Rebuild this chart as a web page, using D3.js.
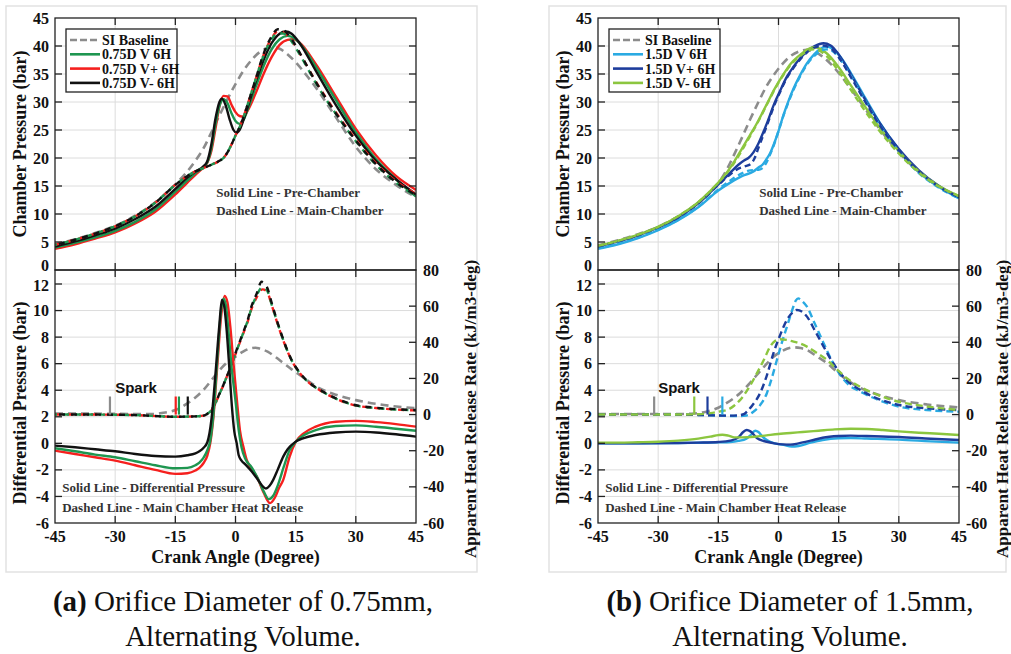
<!DOCTYPE html>
<html>
<head>
<meta charset="utf-8">
<script src="https://cdn.jsdelivr.net/npm/d3@7"></script>
<style>
  body { margin: 0; background: #fff; }
  svg { display: block; }
</style>
</head>
<body>
<script>
// Axis ticks
var degTicks = [-45, -30, -15, 0, 15, 30, 45];
var presTicks = [0, 5, 10, 15, 20, 25, 30, 35, 40, 45];
var dpTicks = [-6, -4, -2, 0, 2, 4, 6, 8, 10, 12];
var hrrTicks = [-60, -40, -20, 0, 20, 40, 60, 80];

// ---------- (a) 0.75mm orifice ----------
var legendA = ["SI Baseline", "0.75D V 6H", "0.75D V+ 6H", "0.75D V- 6H"];

// chamber pressure (bar)
var siPresA = [[-45,4.6],[-40,5.5],[-35,6.6],[-30,7.9],[-25,9.7],[-20,12.1],[-15,15.3],[-12,17.6],[-10,19.5],[-8,21.7],[-6,24.6],[-4,27.6],[-2,30.5],[0,33.2],[2,35.6],[4,37.5],[6,38.9],[8,39.6],[9.5,39.8],[11,39.5],[13,38.5],[15,37.1],[18,34.5],[21,31.6],[25,27.3],[30,22],[35,18],[40,15.2],[45,13]];
var preV_A = [[-45,4.0],[-40,4.85],[-35,5.85],[-30,7.0],[-25,8.6],[-20,10.8],[-15,14.0],[-12,16.0],[-10,17.3],[-8,18.4],[-7,19.3],[-6,21.8],[-5,26],[-4,29.3],[-3,30.5],[-2,29.8],[-1,28],[0,26.6],[1,26.1],[2,26.8],[3,28.6],[5,32.6],[7,36.4],[9,39.4],[11,41.2],[13,41.8],[15,41.2],[17,39.6],[20,36.3],[25,30.4],[30,24.6],[35,19.8],[40,16.2],[45,13.1]];
var preVp_A = [[-45,3.8],[-40,4.6],[-35,5.6],[-30,6.7],[-25,8.3],[-20,10.4],[-15,13.5],[-12,15.6],[-10,17.0],[-8,18.3],[-7,19.2],[-6,21.3],[-5,25.2],[-4,29.2],[-3,31.1],[-2,31],[-1,29.5],[0,28.2],[1,27.5],[2,27.4],[3,28.4],[5,31.5],[7,35],[9,38],[11,40.2],[13,41.1],[14.5,41.2],[16,40.6],[20,36.8],[25,31],[30,25.2],[35,20.5],[40,16.8],[45,14.3]];
var preVm_A = [[-45,4.2],[-40,5.1],[-35,6.2],[-30,7.4],[-25,9.1],[-20,11.3],[-15,14.5],[-12,16.5],[-10,17.6],[-8,18.5],[-7,19.5],[-6,22.5],[-5,27],[-4,30],[-3.4,30.6],[-2.5,29.5],[-1.5,27],[-0.5,25],[0.3,24.5],[1,25],[2,26.8],[3,29],[5,33.5],[7,37.5],[9,40.5],[11,42.2],[12.5,42.6],[14,42.2],[16,40.5],[20,35.6],[25,29.5],[30,24],[35,19.5],[40,16.2],[45,13.5]];
var mainV_A = [[-45,4.5],[-40,5.4],[-35,6.5],[-30,7.8],[-25,9.6],[-20,12.0],[-15,15.2],[-12,16.8],[-10,17.6],[-8,18.2],[-6,18.8],[-4,19.5],[-3,20.0],[-2,21.0],[-1,22.4],[0,24.0],[1,25.5],[2,27.3],[3,29.5],[5,34],[7,38.3],[9,41.2],[10.5,42.3],[12,42.2],[14,40.8],[16,38.5],[20,33.4],[25,27.9],[30,23],[35,18.8],[40,15.6],[45,13.2]];
var mainVp_A = [[-45,4.5],[-40,5.4],[-35,6.5],[-30,7.8],[-25,9.6],[-20,12.0],[-15,15.2],[-12,16.8],[-10,17.6],[-8,18.2],[-6,18.8],[-4,19.5],[-3,20.0],[-2,21.0],[-1,22.4],[0,24.0],[1,25.5],[2,27.3],[3,29.5],[5,34],[7,38.4],[9,41.4],[10.5,42.6],[12,42.4],[14,41],[16,38.7],[20,33.7],[25,28.2],[30,23.3],[35,19.1],[40,15.9],[45,13.6]];
var mainVm_A = [[-45,4.5],[-40,5.4],[-35,6.5],[-30,7.8],[-25,9.6],[-20,12.0],[-15,15.2],[-12,16.8],[-10,17.6],[-8,18.2],[-6,18.8],[-4,19.5],[-3,20.0],[-2,21.0],[-1,22.4],[0,24.0],[1,25.5],[2,27.3],[3,29.5],[5,34],[7,38.6],[9,41.7],[10.5,43.0],[12,42.8],[14,41.2],[16,38.8],[20,33.6],[25,28],[30,23.1],[35,18.9],[40,15.7],[45,13.4]];

// differential pressure (bar)
var dpV_A = [[-45,-0.37],[-40,-0.6],[-35,-0.85],[-30,-1.05],[-25,-1.35],[-20,-1.65],[-15,-1.88],[-12,-1.85],[-10,-1.65],[-9,-1.45],[-8,-1.1],[-7,-0.5],[-6.3,0.2],[-5.5,2.2],[-4.5,6.5],[-3.6,10.0],[-3,10.9],[-2.4,10.4],[-1.8,8.6],[-1,5.8],[0,3.2],[0.8,1.0],[1.5,-0.3],[2.5,-1.2],[4,-1.8],[5.5,-2.6],[7,-3.6],[8.3,-4.2],[9.5,-3.9],[10.5,-3.2],[12,-1.8],[13.5,-0.5],[15,0.1],[17,0.6],[20,1.0],[25,1.3],[30,1.35],[35,1.25],[40,1.1],[45,0.95]];
var dpVp_A = [[-45,-0.55],[-40,-0.8],[-35,-1.05],[-30,-1.3],[-25,-1.65],[-20,-2.0],[-15,-2.3],[-12,-2.25],[-10,-2.05],[-9,-1.85],[-8,-1.5],[-7,-0.9],[-6.3,0.0],[-5.5,2.0],[-4.5,6.0],[-3.5,9.8],[-2.7,11.1],[-2,10.6],[-1.3,8.8],[-0.5,6.0],[0.3,3.4],[1.1,1.0],[2,-0.3],[2.8,-1.25],[4,-1.9],[5.3,-2.5],[7,-3.7],[8.6,-4.5],[9.8,-4.1],[10.8,-3.4],[11.9,-2.75],[13.5,-1.0],[15,0.1],[17,0.75],[20,1.26],[25,1.63],[30,1.69],[35,1.6],[40,1.45],[45,1.26]];
var dpVm_A = [[-45,-0.17],[-40,-0.3],[-35,-0.45],[-30,-0.6],[-25,-0.8],[-20,-0.95],[-15,-1.0],[-12,-0.9],[-10,-0.75],[-9,-0.6],[-8,-0.35],[-7,0.1],[-6,1.8],[-5,5.2],[-4,9.0],[-3.4,10.8],[-2.8,10.3],[-2.2,8.5],[-1.5,5.5],[-0.9,2.8],[-0.3,0.9],[0.3,0],[0.8,-0.9],[1.5,-1.3],[2.5,-1.6],[4,-2.1],[5.5,-2.7],[7,-3.3],[7.6,-3.4],[8.5,-3.2],[9.4,-2.75],[10.5,-2],[11.9,-1.0],[13,-0.45],[15,0.13],[17,0.4],[20,0.63],[25,0.82],[30,0.88],[35,0.82],[40,0.68],[45,0.5]];

// apparent heat release rate (kJ/m3-deg)
var siHrrA = [[-45,0.5],[-35,0.5],[-25,0.3],[-20.5,0.3],[-18,1.0],[-15,2.5],[-12,6.2],[-10,9.5],[-8,13.6],[-6,19],[-4,24.5],[-2,29],[0,32],[2,35],[4,36.8],[5,37],[6,36.5],[8,34.8],[10,31.8],[12,28.4],[14,25],[16,22],[18.5,18],[21,14.5],[25,11],[30,8],[37,5.3],[45,3.5]];
var hrrV_A = [[-45,0],[-35,0],[-25,-0.3],[-15,-1.2],[-10,-1.0],[-8,-0.6],[-7,0.4],[-6,2.4],[-5,6.4],[-4,11.4],[-3,16.4],[-2.2,20.9],[-1,27.4],[0,33.7],[1,39.6],[2,45.6],[3,51.6],[4,59],[5.3,66],[6.7,70.5],[7.8,69],[9,61],[10.3,51.8],[12,40.7],[13.6,31.8],[16.1,22.7],[18.5,17.3],[21.1,13.4],[25,8.8],[29.8,5.1],[35,3.6],[40,2.8],[45,2.3]];
var hrrVp_A = [[-45,0],[-35,0],[-25,-0.3],[-15,-1.2],[-10,-1.0],[-8,-0.6],[-7,0.4],[-6,2.3],[-5,6.3],[-4,11.3],[-3,16.3],[-2.2,20.8],[-1,27.3],[0,33.5],[1,39.4],[2,45.3],[3,51.2],[4,58.5],[5.3,65],[6.7,69.3],[7.8,68.2],[9,60.8],[10.3,51.5],[12,40.5],[13.6,31.8],[16.1,22.7],[18.5,17.3],[21.1,13.4],[25,8.8],[29.8,5.1],[35,3.6],[40,2.8],[45,2.3]];
var hrrVm_A = [[-45,0],[-35,0],[-25,-0.3],[-15,-1.2],[-10,-1.0],[-8,-0.6],[-7,0.5],[-6,2.5],[-5,6.5],[-4,11.5],[-3,16.5],[-2.2,21],[-1,27.5],[0,34],[1,40],[2,46],[3,52],[4,60],[5.3,67],[6.5,73.5],[7.8,70.8],[9,62],[10.3,52.3],[12,41],[13.6,32],[16.1,22.9],[18.5,17.5],[21.1,13.6],[25,9],[29.8,5.3],[35,3.8],[40,3],[45,2.5]];

// spark timing (deg)
var sparkA = [-31.3, -14.1, -14.9, -11.9];

// ---------- (b) 1.5mm orifice ----------
var legendB = ["SI Baseline", "1.5D V 6H", "1.5D V+ 6H", "1.5D V- 6H"];

var siPresB = [[-45,4.4],[-40,5.3],[-35,6.4],[-30,7.7],[-25,9.6],[-20,12],[-15,15.5],[-13,17.8],[-11,20.7],[-9,23.8],[-7,27],[-5,30],[-3,32.8],[-1,35],[1,36.8],[3,38.2],[5,39],[7,39.3],[9,39],[11,38.1],[13,36.8],[15,35.2],[18,32.4],[21,29.4],[25,25.4],[30,21],[35,17.5],[40,15],[45,13]];
var preV_B = [[-45,3.8],[-40,4.6],[-35,5.7],[-30,7.1],[-25,8.9],[-20,11.2],[-15,14.2],[-12,15.6],[-9,16.8],[-6.25,17.6],[-5,18.3],[-4,18.8],[-3,19.8],[-2,21],[-1.25,22.3],[0,24.8],[1.25,27.7],[2.5,30.2],[3.75,32.4],[5.4,34.8],[7,36.8],[9,38.6],[10.5,39.5],[12.1,39.9],[14,39.2],[16,37.5],[18,35.2],[21,31.5],[25,26.6],[30,21.5],[35,17.5],[40,14.8],[45,12.8]];
var preVp_B = [[-45,4.2],[-40,5.1],[-35,6.2],[-30,7.6],[-25,9.4],[-20,11.9],[-15,15.3],[-12,17.4],[-10,18.8],[-8.5,19.6],[-7.5,20],[-6.25,21],[-5,22.6],[-3,26],[-1,29.8],[0.4,32],[2,34.4],[3.75,36.3],[5.4,37.8],[7,39],[9,40],[11.2,40.5],[13,40.1],[15,38.5],[18,35],[21,31.2],[25,26.5],[30,21.6],[35,17.8],[40,15],[45,13]];
var preVm_B = [[-45,4.3],[-40,5.2],[-35,6.3],[-30,7.7],[-25,9.6],[-20,12.1],[-15,15.6],[-13,17.3],[-11,19.4],[-9,21.8],[-7,24.2],[-5,26.7],[-3,29.5],[-1,32.3],[1,34.7],[3,36.8],[5,38.2],[7,39.3],[8.75,39.8],[10,39.6],[12,38.7],[15,36.2],[18,33],[21,29.8],[25,25.6],[30,21.2],[35,17.6],[40,15],[45,13.2]];
var mainV_B = [[-45,3.9],[-40,4.7],[-35,5.8],[-30,7.2],[-25,9.0],[-20,11.3],[-15,14.4],[-12,16],[-9,17.3],[-7,17.8],[-5,17.9],[-4,18.2],[-3,19.2],[-2,20.8],[-1,22.6],[0,24.8],[1.25,27.6],[2.5,30],[3.75,32.2],[5.4,34.6],[7,36.6],[9,38.3],[10.5,39.1],[12,39.4],[14,38.8],[16,37],[18,34.7],[21,31],[25,26.2],[30,21.2],[35,17.3],[40,14.7],[45,12.8]];
var mainVp_B = [[-45,4.2],[-40,5.1],[-35,6.2],[-30,7.6],[-25,9.4],[-20,11.9],[-15,15.2],[-12,17.1],[-10,18.1],[-8.5,18.5],[-7,18.9],[-6,19.9],[-5,21.8],[-3,25.6],[-1,29.5],[0.4,31.8],[2,34.2],[3.75,36.1],[5.4,37.6],[7,38.8],[9,39.7],[11,40.1],[13,39.6],[15,38],[18,34.5],[21,30.8],[25,26.1],[30,21.3],[35,17.6],[40,14.9],[45,13]];
var mainVm_B = [[-45,4.3],[-40,5.2],[-35,6.3],[-30,7.7],[-25,9.6],[-20,12.1],[-15,15.6],[-13,17.2],[-11,19.2],[-9,21.5],[-7,24],[-5,26.6],[-3,29.4],[-1,32.2],[1,34.6],[3,36.6],[5,38],[7,39],[8.75,39.4],[10,39.2],[12,38.2],[15,35.5],[18,32.2],[21,29],[25,25],[30,20.8],[35,17.4],[40,14.9],[45,13.2]];

var dpV_B = [[-45,0],[-35,0],[-25,0.02],[-20,0.04],[-15,0.07],[-12,0.1],[-10,0.18],[-8,0.35],[-7,0.6],[-5.8,0.95],[-5,0.85],[-4,0.5],[-2.9,0.25],[-1,0],[1.25,-0.12],[3.3,-0.25],[5,-0.2],[8,0.05],[11,0.25],[15,0.38],[18,0.4],[22,0.36],[30,0.28],[38,0.15],[45,0.05]];
var dpVp_B = [[-45,0],[-35,0],[-25,0.02],[-20,0.05],[-15,0.1],[-12,0.2],[-10,0.45],[-8.8,0.85],[-7.9,1.0],[-7,0.9],[-5.4,0.4],[-4,0.2],[-2.9,0.12],[-1,0],[1,-0.08],[3,-0.1],[5,0.0],[8,0.2],[11,0.42],[15,0.55],[18,0.58],[22,0.55],[30,0.48],[38,0.35],[45,0.25]];
var dpVm_B = [[-45,0.05],[-40,0.05],[-35,0.08],[-30,0.12],[-25,0.2],[-20,0.35],[-17,0.5],[-15,0.62],[-14,0.65],[-12.5,0.58],[-11,0.45],[-9,0.45],[-6,0.5],[-3,0.6],[0,0.7],[3,0.78],[6,0.85],[10,0.95],[14,1.05],[18,1.1],[22,1.08],[26,1.0],[30,0.9],[35,0.8],[40,0.72],[45,0.63]];

var siHrrB = [[-45,0.3],[-35,0.3],[-25,0.3],[-21,0.6],[-18,1.6],[-15,3.8],[-13.75,5.3],[-11.5,8.5],[-9.6,11.8],[-7.5,16.5],[-5.4,21.9],[-3.3,27.2],[-1.25,32],[1,35.3],[3.75,37.2],[5.5,36.8],[7.1,35.7],[9.5,32.3],[12.1,28.4],[14.5,23.8],[17.1,19.1],[20,15.2],[23.75,11.8],[30,8],[37,5.6],[45,4]];
var hrrV_B = [[-45,0],[-30,0],[-20,-0.2],[-15,-0.6],[-10,-0.8],[-8,-0.5],[-7,0.3],[-6.25,1.6],[-4.5,5.5],[-2.9,11.8],[-1.7,20],[-0.4,30.2],[0.8,39.5],[2.1,48.6],[3.3,57],[4.3,63],[4.9,64.3],[5.8,63],[7.1,59.7],[9,50.5],[11.25,39.5],[13.3,29.8],[15.4,21.9],[17.5,16.5],[20.4,12.7],[25,8],[30,4.4],[37,2.5],[45,1.6]];
var hrrVp_B = [[-45,0],[-30,0],[-20,-0.2],[-15,-0.5],[-12,-0.6],[-10,-0.4],[-8.5,0.4],[-7.9,1.6],[-6.5,5.2],[-4.6,11.8],[-3,21],[-1.25,34],[0.5,44.5],[2.1,52.4],[3.5,56.5],[4.6,57.9],[5.8,57],[7.1,54.2],[9,46.8],[11.25,37.6],[13.3,29.6],[15.4,22.9],[17.5,18],[20.4,13.6],[25,8.6],[30,5.3],[37,3.5],[45,2.5]];
var hrrVm_B = [[-45,0],[-35,0],[-25,0],[-20,0.2],[-17,0.8],[-14.5,1.8],[-12.9,2.5],[-11,5],[-9.6,8],[-7.5,14.5],[-5.4,22.8],[-3.5,31],[-2.1,37.6],[-0.8,40.8],[0.4,41.7],[2,41.3],[3.75,40.4],[5.5,39.2],[7.1,37.6],[9.5,34.2],[12.1,30.2],[14.5,25.2],[17.1,20],[20,15.8],[23.75,11.8],[30,7.1],[37,4.5],[45,2.5]];

var sparkB = [-31, -14, -17.7, -21];

// colours: SI, V, V+, V-
var coloursA = ["#8c8c8c", "#1e9650", "#f5201e", "#111111"];
var coloursB = ["#8c8c8c", "#2aaae2", "#1d3d9c", "#8cc63f"];

var W = 1011, H = 654;
var svg = d3.select("body").append("svg")
    .attr("width", W)
    .attr("height", H);

var serif = "'Liberation Serif', 'Times New Roman', serif";

var panels = [
  { id: "a", x0: 55, x1: 416, frame: [6, 6, 471, 566], legend: legendA, colours: coloursA,
    siPres: siPresA, pre: [preV_A, preVp_A, preVm_A], main: [mainV_A, mainVp_A, mainVm_A],
    dp: [dpV_A, dpVp_A, dpVm_A], siHrr: siHrrA, hrr: [hrrV_A, hrrVp_A, hrrVm_A],
    spark: sparkA, preOrder: [1, 0, 2], dpOrder: [1, 0, 2], mixedMain: true, rTitle: 54,
    cap1: "Orifice Diameter of 0.75mm,", tag: "(a)", capX: 243 },
  { id: "b", x0: 598, x1: 959, frame: [549, 6, 457, 566], legend: legendB, colours: coloursB,
    siPres: siPresB, pre: [preV_B, preVp_B, preVm_B], main: [mainV_B, mainVp_B, mainVm_B],
    dp: [dpV_B, dpVp_B, dpVm_B], siHrr: siHrrB, hrr: [hrrV_B, hrrVp_B, hrrVm_B],
    spark: sparkB, preOrder: [0, 1, 2], dpOrder: [0, 1, 2], mixedMain: false, rTitle: 43,
    cap1: "Orifice Diameter of 1.5mm,", tag: "(b)", capX: 790 }
];

panels.forEach(drawPanel);

function drawPanel(p) {
  var g = svg.append("g");
  var topY0 = 18, midY = 270, botY = 523;

  var x = d3.scaleLinear().domain([-45, 45]).range([p.x0, p.x1]);
  var yP = d3.scaleLinear().domain([0, 45]).range([midY, topY0]);
  var yD = d3.scaleLinear().domain([-6, 12]).range([botY, 284]);
  var yH = d3.scaleLinear().domain([-60, 80]).range([botY, midY]);

  // figure frame
  g.append("rect")
    .attr("x", p.frame[0]).attr("y", p.frame[1])
    .attr("width", p.frame[2]).attr("height", p.frame[3])
    .attr("fill", "#fff").attr("stroke", "#e2e2e2").attr("stroke-width", 1.5);

  // clip paths
  var defs = svg.append("defs");
  defs.append("clipPath").attr("id", "clipTop" + p.id).append("rect")
    .attr("x", p.x0).attr("y", topY0).attr("width", p.x1 - p.x0).attr("height", midY - topY0);
  defs.append("clipPath").attr("id", "clipBot" + p.id).append("rect")
    .attr("x", p.x0).attr("y", midY).attr("width", p.x1 - p.x0).attr("height", botY - midY);

  // grid
  var grid = g.append("g").attr("stroke", "#dcdcdc").attr("stroke-width", 1);
  grid.selectAll(".vt").data(degTicks.slice(1, -1)).enter().append("line")
    .attr("x1", d => x(d)).attr("x2", d => x(d)).attr("y1", topY0).attr("y2", botY);
  grid.selectAll(".hp").data(presTicks.slice(1, -1)).enter().append("line")
    .attr("x1", p.x0).attr("x2", p.x1).attr("y1", d => yP(d)).attr("y2", d => yP(d));
  grid.selectAll(".hd").data(dpTicks.slice(1)).enter().append("line")
    .attr("x1", p.x0).attr("x2", p.x1).attr("y1", d => yD(d)).attr("y2", d => yD(d));

  var lineP = d3.line().x(d => x(d[0])).y(d => yP(d[1])).curve(d3.curveMonotoneX);
  var lineD = d3.line().x(d => x(d[0])).y(d => yD(d[1])).curve(d3.curveMonotoneX);
  var lineH = d3.line().x(d => x(d[0])).y(d => yH(d[1])).curve(d3.curveMonotoneX);

  // ---- top: chamber pressure ----
  var top = g.append("g").attr("clip-path", "url(#clipTop" + p.id + ")")
    .attr("fill", "none").attr("stroke-linejoin", "round");
  top.append("path").attr("d", lineP(p.siPres))
    .attr("stroke", p.colours[0]).attr("stroke-width", 2.6).attr("stroke-dasharray", "8,5");
  p.preOrder.forEach(function (i) {
    top.append("path").attr("d", lineP(p.pre[i]))
      .attr("stroke", p.colours[i + 1]).attr("stroke-width", 2.4);
  });
  p.preOrder.forEach(function (i, k) {
    top.append("path").attr("d", lineP(p.main[i]))
      .attr("stroke", p.colours[i + 1]).attr("stroke-width", 2.4)
      .attr("stroke-dasharray", p.mixedMain ? "6,6" : "6,4")
      .attr("stroke-dashoffset", p.mixedMain ? k * 4 : 0);
  });

  // ---- bottom: differential pressure + heat release ----
  var bot = g.append("g").attr("clip-path", "url(#clipBot" + p.id + ")")
    .attr("fill", "none").attr("stroke-linejoin", "round");
  bot.append("path").attr("d", lineH(p.siHrr))
    .attr("stroke", p.colours[0]).attr("stroke-width", 2.6).attr("stroke-dasharray", "8,5");
  p.preOrder.forEach(function (i, k) {
    bot.append("path").attr("d", lineH(p.hrr[i]))
      .attr("stroke", p.colours[i + 1]).attr("stroke-width", 2.4)
      .attr("stroke-dasharray", p.mixedMain ? "6,6" : "7,4")
      .attr("stroke-dashoffset", p.mixedMain ? k * 4 : 0);
  });
  p.dpOrder.forEach(function (i) {
    bot.append("path").attr("d", lineD(p.dp[i]))
      .attr("stroke", p.colours[i + 1]).attr("stroke-width", 2.4);
  });

  // spark markers
  g.selectAll(".spark" + p.id).data(p.spark).enter().append("line")
    .attr("x1", d => x(d)).attr("x2", d => x(d))
    .attr("y1", yH(0)).attr("y2", yH(10))
    .attr("stroke", (d, i) => p.colours[i]).attr("stroke-width", 2.2);
  g.append("text").attr("x", x(-30)).attr("y", 393)
    .attr("font-family", "'Liberation Sans', Arial, sans-serif").attr("font-weight", "bold")
    .attr("font-size", 15).attr("fill", "#111").text("Spark");

  // ---- frames and ticks ----
  var box = g.append("g").attr("fill", "none").attr("stroke", "#222").attr("stroke-width", 1.3);
  box.append("rect").attr("x", p.x0).attr("y", topY0).attr("width", p.x1 - p.x0).attr("height", midY - topY0);
  box.append("rect").attr("x", p.x0).attr("y", midY).attr("width", p.x1 - p.x0).attr("height", botY - midY);

  var tk = 7;
  var ticks = g.append("g").attr("stroke", "#222").attr("stroke-width", 1.3);
  degTicks.slice(1, -1).forEach(function (d) {
    [[topY0, tk], [midY, -tk], [midY, tk], [botY, -tk]].forEach(function (t) {
      ticks.append("line").attr("x1", x(d)).attr("x2", x(d)).attr("y1", t[0]).attr("y2", t[0] + t[1]);
    });
  });
  presTicks.slice(1, -1).forEach(function (d) {
    ticks.append("line").attr("x1", p.x0).attr("x2", p.x0 + tk).attr("y1", yP(d)).attr("y2", yP(d));
    ticks.append("line").attr("x1", p.x1).attr("x2", p.x1 - tk).attr("y1", yP(d)).attr("y2", yP(d));
  });
  dpTicks.slice(1).forEach(function (d) {
    ticks.append("line").attr("x1", p.x0).attr("x2", p.x0 + tk).attr("y1", yD(d)).attr("y2", yD(d));
  });
  hrrTicks.slice(1, -1).forEach(function (d) {
    ticks.append("line").attr("x1", p.x1).attr("x2", p.x1 - tk).attr("y1", yH(d)).attr("y2", yH(d));
  });

  // tick labels
  var lab = g.append("g").attr("font-family", serif).attr("font-weight", "bold")
    .attr("font-size", 16).attr("fill", "#111");
  lab.selectAll(".tp").data(presTicks).enter().append("text")
    .attr("x", p.x0 - 6).attr("y", d => yP(d)).attr("dy", d => d === 0 ? "0.05em" : "0.35em")
    .attr("text-anchor", "end").text(d => d);
  lab.selectAll(".td").data(dpTicks).enter().append("text")
    .attr("x", p.x0 - 6).attr("y", d => yD(d)).attr("dy", d => d === 12 ? "0.45em" : "0.35em")
    .attr("text-anchor", "end").text(d => d);
  lab.selectAll(".th").data(hrrTicks).enter().append("text")
    .attr("x", p.x1 + 7).attr("y", d => yH(d)).attr("dy", "0.35em")
    .attr("text-anchor", "start").text(d => d);
  lab.selectAll(".tx").data(degTicks).enter().append("text")
    .attr("x", d => x(d)).attr("y", botY + 19)
    .attr("text-anchor", "middle").text(d => d);

  // axis titles
  var ttl = g.append("g").attr("font-family", serif).attr("font-weight", "bold").attr("fill", "#111");
  ttl.append("text").attr("transform", "translate(" + (p.x0 - 35) + "," + 144 + ") rotate(-90)")
    .attr("text-anchor", "middle").attr("dy", "0.35em").attr("font-size", 18).text("Chamber Pressure (bar)");
  ttl.append("text").attr("transform", "translate(" + (p.x0 - 35) + "," + 403 + ") rotate(-90)")
    .attr("text-anchor", "middle").attr("dy", "0.35em").attr("font-size", 18).text("Differential Pressure (bar)");
  ttl.append("text").attr("transform", "translate(" + (p.x1 + p.rTitle) + "," + 409 + ") rotate(-90)")
    .attr("text-anchor", "middle").attr("dy", "0.35em").attr("font-size", 17).text("Apparent Heat Release Rate (kJ/m3-deg)");
  ttl.append("text").attr("x", (p.x0 + p.x1) / 2).attr("y", 563)
    .attr("text-anchor", "middle").attr("font-size", 18).text("Crank Angle (Degree)");

  // notes
  var note = g.append("g").attr("font-family", serif).attr("font-weight", "bold")
    .attr("font-size", 13).attr("fill", "#333");
  note.append("text").attr("x", x(-4.8)).attr("y", 197).text("Solid Line - Pre-Chamber");
  note.append("text").attr("x", x(-4.8)).attr("y", 215).text("Dashed Line - Main-Chamber");
  note.append("text").attr("x", x(-43.2)).attr("y", 492).text("Solid Line - Differential Pressure");
  note.append("text").attr("x", x(-43.2)).attr("y", 512).text("Dashed Line - Main Chamber Heat Release");

  // legend
  var lg = g.append("g").attr("transform", "translate(" + (p.x0 + 11) + ",29)");
  lg.append("rect").attr("width", 111).attr("height", 63)
    .attr("fill", "#fff").attr("stroke", "#222").attr("stroke-width", 1.3);
  p.legend.forEach(function (name, i) {
    var yy = 11 + i * 14.3;
    lg.append("line").attr("x1", 4).attr("x2", 34).attr("y1", yy).attr("y2", yy)
      .attr("stroke", p.colours[i]).attr("stroke-width", 2.6)
      .attr("stroke-dasharray", i === 0 ? "7,3" : null);
    lg.append("text").attr("x", 36).attr("y", yy).attr("dy", "0.35em")
      .attr("font-family", serif).attr("font-weight", "bold").attr("font-size", 14)
      .attr("fill", "#111").text(name);
  });

  // caption
  var cap = svg.append("text").attr("x", p.capX).attr("y", 611)
    .attr("text-anchor", "middle").attr("font-family", serif).attr("font-size", 29).attr("fill", "#111");
  cap.append("tspan").attr("font-weight", "bold").text(p.tag);
  cap.append("tspan").text(" " + p.cap1);
  svg.append("text").attr("x", p.capX).attr("y", 646)
    .attr("text-anchor", "middle").attr("font-family", serif).attr("font-size", 29).attr("fill", "#111")
    .text("Alternating Volume.");
}
</script>
</body>
</html>
